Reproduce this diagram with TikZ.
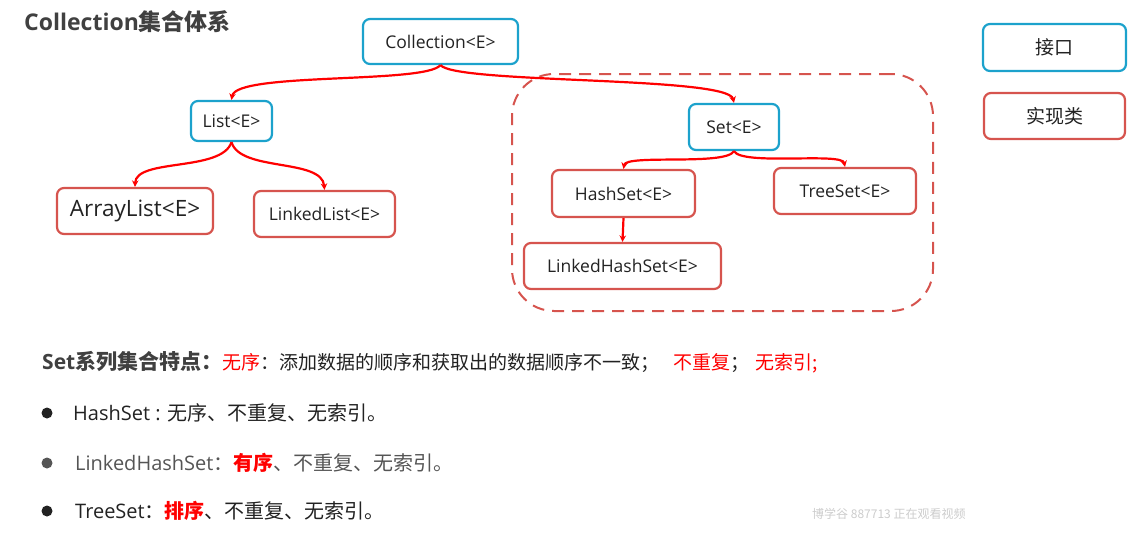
\documentclass[tikz,border=0pt]{standalone}
\usepackage{fontspec}
\setmainfont{Open Sans}
\newfontfamily\cjk{Noto Sans CJK SC}
\usetikzlibrary{arrows.meta}
\definecolor{ifblue}{RGB}{28,162,204}
\definecolor{imred}{RGB}{214,84,78}
\definecolor{arrred}{RGB}{255,0,0}
\definecolor{txt}{RGB}{34,34,34}
\definecolor{hdr}{RGB}{64,64,64}
\definecolor{soft}{RGB}{85,85,85}
\newcommand{\fs}[1]{\fontsize{#1}{#1}\selectfont}
\begin{document}
\begin{tikzpicture}[x=1pt,y=1pt,
  box/.style={draw, rounded corners=7pt, line width=2.2pt, inner sep=0pt, fill=white, text=txt, font=\fs{17.5}},
  ifbox/.style={box, draw=ifblue},
  imbox/.style={box, draw=imred},
  arr/.style={draw=arrred, line width=2.2pt, -{Stealth[length=6.5pt,width=6.5pt]}},
  line/.style={anchor=west, inner sep=0pt, font=\fs{20}},
  bullet/.style={circle, inner sep=0pt, minimum size=11pt, fill=txt},
]
\useasboundingbox (0,0) rectangle (1143,-539);

\node[anchor=west, inner sep=0pt, text=hdr, font=\fs{23}\bfseries] (title) at (24,-22) {Collection{\cjk 集合体系}};

\node[dashed, draw=imred, line width=2pt, dash pattern=on 12pt off 8pt, rounded corners=42pt, minimum width=421pt, minimum height=237pt] (grp) at (722.5,-192.5) {};

\node[ifbox, minimum width=155pt, minimum height=45pt] (col) at (440.5,-41.5) {Collection<E>};
\node[ifbox, minimum width=81pt, minimum height=40pt] (list) at (231.5,-121) {List<E>};
\node[imbox, minimum width=156pt, minimum height=46pt, font=\fs{22.5}] (al) at (135,-211) {ArrayList<E>};
\node[imbox, minimum width=141pt, minimum height=46pt] (ll) at (324.5,-214) {LinkedList<E>};
\node[ifbox, minimum width=90pt, minimum height=46pt] (set) at (734,-127) {Set<E>};
\node[imbox, minimum width=143pt, minimum height=47pt] (hs) at (623.5,-193.5) {HashSet<E>};
\node[imbox, minimum width=142pt, minimum height=46pt] (ts) at (845,-191) {TreeSet<E>};
\node[imbox, minimum width=197pt, minimum height=46pt] (lhs) at (622.5,-266) {LinkedHashSet<E>};

\node[ifbox, minimum width=143pt, minimum height=47pt, font=\cjk\fs{19}] (lg1) at (1054.5,-47.5) {接口};
\node[imbox, minimum width=141pt, minimum height=46pt, font=\cjk\fs{19}] (lg2) at (1054.5,-116) {实现类};

\draw[arr] (col.south) .. controls (425,-84) and (236,-72) .. (list.north);
\draw[arr] (col.south) .. controls (456,-84) and (728,-76) .. (set.north);
\draw[arr] (list.south) .. controls (222,-172) and (136,-158) .. (al.north);
\draw[arr] (list.south) .. controls (240,-172) and (322,-158) .. (ll.north);
\draw[arr] (set.south) .. controls (726,-166) and (626,-154) .. (hs.north);
\draw[arr] (set.south) .. controls (742,-166) and (842,-152) .. (ts.north);
\draw[arr] (hs.south) -- (lhs.north);

\node[line, text=txt, font=\fs{19}] (h0) at (42,-362) {{\fs{21}\bfseries\color{hdr}Set{\cjk 系列集合特点：}}{\cjk\color{arrred}无序\color{txt}：添加数据的顺序和获取出的数据顺序不一致；\hspace{14pt}\color{arrred}不重复\color{txt}；\hspace{6pt}\color{arrred}无索引;}};

\node[bullet] (b1) at (47,-413) {};
\node[line, text=txt] (t1) at (73,-413) {HashSet : {\cjk 无序、不重复、无索引。}};
\node[bullet, fill=soft] (b2) at (47,-463) {};
\node[line, text=soft] (t2) at (75,-463) {LinkedHashSet{\cjk ：\textbf{\color{arrred}有序}、不重复、无索引。}};
\node[bullet] (b3) at (47,-511) {};
\node[line, text=txt] (t3) at (75,-511) {TreeSet{\cjk ：\textbf{\color{arrred}排序}、不重复、无索引。}};

\node[anchor=west, inner sep=0pt, text=black!20, font=\cjk\fs{12}] (wm) at (812,-514) {博学谷 887713 正在观看视频};
\end{tikzpicture}
\end{document}
